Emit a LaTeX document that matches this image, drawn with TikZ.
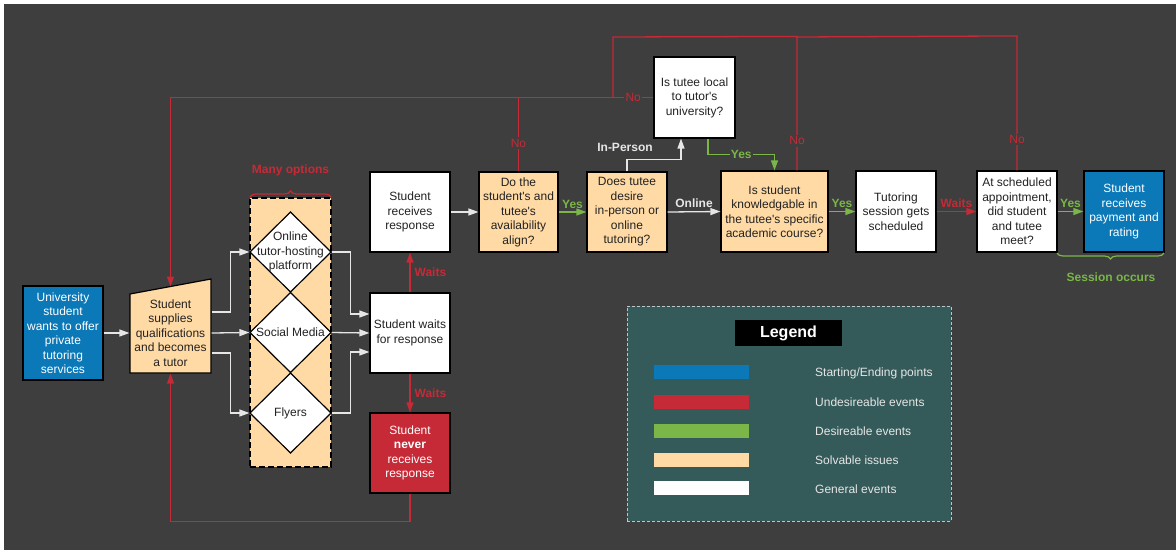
\documentclass[tikz,border=0pt]{standalone}
\usepackage{fontspec}
\setmainfont{Liberation Sans}[Ligatures=TeXOff]
\usetikzlibrary{arrows.meta,decorations.pathreplacing}
\definecolor{bgc}{HTML}{3E3E3E}
\definecolor{sblue}{HTML}{0B78B8}
\definecolor{sred}{HTML}{C62A36}
\definecolor{sgreen}{HTML}{7AB648}
\definecolor{speach}{HTML}{FFDAA5}
\definecolor{lteal}{HTML}{355A5A}
\definecolor{lgray}{HTML}{E6E6E6}
\definecolor{ink}{HTML}{222222}
\begin{document}
\begin{tikzpicture}[x=1pt,y=-1pt,
 box/.style={draw=black, line width=1.2pt, minimum width=80pt, minimum height=80pt, inner sep=1pt, align=center, font=\fontsize{12}{14.5}\selectfont, text=ink},
 wbox/.style={box, fill=white},
 pbox/.style={box, fill=speach},
 bbox/.style={box, fill=sblue, text=white},
 rbox/.style={box, fill=sred, text=white},
 wline/.style={draw=lgray, line width=1.3pt},
 warr/.style={wline, -{Triangle[length=10pt,width=7pt]}},
 rline/.style={draw=sred, line width=1.3pt},
 rarr/.style={rline, -{Triangle[length=10pt,width=7pt]}},
 garr/.style={draw=sgreen, line width=1.3pt, -{Triangle[length=10pt,width=7pt]}},
 lbl/.style={font=\fontsize{12}{14}\selectfont\bfseries, inner sep=1pt},
 nolbl/.style={font=\fontsize{12}{14}\selectfont, text=sred, fill=bgc, inner sep=1.5pt},
 legbar/.style={minimum width=95pt, minimum height=14pt, inner sep=0pt},
 legtxt/.style={anchor=west, text=lgray, font=\fontsize{12}{14}\selectfont, inner sep=0pt},
 diam/.style={fill=white, draw=black, line width=1.2pt},
]
\useasboundingbox (0,0) rectangle (1176,550);
\fill[white] (0,0) rectangle (1176,550);
\fill[bgc] (4,4) rectangle (1176,550);

% start
\node[bbox, minimum height=94pt] (start) at (63,333) {University\\student\\wants to offer\\private\\tutoring\\services};

% trapezoid
\filldraw[fill=speach, draw=black, line width=1.2pt] (130,294) -- (211,279) -- (211,373) -- (130,373) -- cycle;
\node[box, draw=none, minimum width=81pt] (trap) at (170.5,333) {Student\\supplies\\qualifications\\and becomes\\a tutor};
\coordinate (traptop) at (170.5,286.5);

% options column
\node[draw=black, dash pattern=on 6pt off 3pt, line width=1.2pt, fill=speach, minimum width=81pt, minimum height=269pt, inner sep=0pt] (col) at (290.5,332.5) {};
\filldraw[diam] (290.5,212) -- (331,252) -- (290.5,292) -- (250,252) -- cycle;
\filldraw[diam] (290.5,292.5) -- (331,332.5) -- (290.5,372.5) -- (250,332.5) -- cycle;
\filldraw[diam] (290.5,373) -- (331,413) -- (290.5,453) -- (250,413) -- cycle;
\node[box, draw=none, minimum width=81pt] (d1) at (290.5,252) {Online\\tutor-hosting\\platform};
\node[box, draw=none, minimum width=81pt] (d2) at (290.5,332.5) {Social Media};
\node[box, draw=none, minimum width=81pt] (d3) at (290.5,413) {Flyers};
\draw[sred, line width=1.2pt, decorate, decoration={brace, amplitude=6pt}] (250,197) -- (331,197);
\node[lbl, text=sred] (manyopt) at (290.5,170) {Many options};

% response column
\node[wbox] (wait) at (410,333) {Student waits\\for response};
\node[wbox] (recv) at (410,212) {Student\\receives\\response};
\node[rbox] (never) at (410,453) {Student\\\textbf{never}\\receives\\response};

% main row
\node[pbox, minimum width=79pt] (align) at (518.5,212) {Do the\\student's and\\tutee's\\availability\\align?};
\node[pbox] (desire) at (627,212) {Does tutee\\desire\\in-person or\\online\\tutoring?};
\node[wbox, minimum width=81pt, minimum height=81pt] (local) at (694.5,97.5) {Is tutee local\\to tutor's\\university?};
\node[pbox, minimum width=107pt, minimum height=81pt] (know) at (774.5,211.5) {Is student\\knowledgable in\\the tutee's specific\\academic course?};
\node[wbox, minimum height=81pt] (sched) at (896,211.5) {Tutoring\\session gets\\scheduled};
\node[wbox, minimum height=81pt] (meet) at (1017,211.5) {At scheduled\\appointment,\\did student\\and tutee\\meet?};
\node[bbox, minimum height=81pt] (pay) at (1124,211.5) {Student\\receives\\payment and\\rating};
\draw[sgreen, line width=1.2pt, decorate, decoration={brace, amplitude=6pt}] (1164,253) -- (1057,253);
\node[lbl, text=sgreen] (sessocc) at (1111,277) {Session occurs};

% connectors
\draw[warr] (start.east) -- (trap.west);
\draw[warr] ([yshift=21pt]trap.east) -- ++(19,0) |- (d1.west);
\draw[warr] (trap.east) -- (d2.west);
\draw[warr] ([yshift=-20pt]trap.east) -- ++(19,0) |- (d3.west);
\draw[warr] (d1.east) -- ++(19,0) |- ([yshift=19pt]wait.west);
\draw[warr] (d2.east) -- (wait.west);
\draw[warr] (d3.east) -- ++(19,0) |- ([yshift=-19pt]wait.west);
\draw[rarr] (wait.north) -- node[lbl, text=sred, right=3pt] {Waits} (recv.south);
\draw[rarr] (wait.south) -- node[lbl, text=sred, right=3pt] {Waits} (never.north);
\draw[rarr] (never.south) -- ++(0,28) -| (trap.south);
\draw[warr] (recv.east) -- (align.west);
\draw[garr] (align.east) -- node[lbl, text=sgreen, above=2pt] {Yes} (desire.west);
\draw[warr] (desire.east) -- node[lbl, text=lgray, above=2pt] {Online} (know.west);
\draw[warr] (desire.north) -- ++(0,-12) -| ([xshift=-13.5pt]local.south);
\node[lbl, text=lgray] (inperson) at (625,147) {In-Person};
\draw[garr] ([xshift=13.5pt]local.south) -- ++(0,16) -| node[pos=0.25, lbl, text=sgreen, fill=bgc] {Yes} (know.north);
\draw[garr] (know.east) -- node[lbl, text=sgreen, above=2pt] {Yes} (sched.west);
\draw[rarr] (sched.east) -- node[lbl, text=sred, above=2pt] {Waits} (meet.west);
\draw[garr] (meet.east) -- node[lbl, text=sgreen, above=2pt] {Yes} (pay.west);

% red "No" loops
\draw[rarr] (local.west) -- node[nolbl] {No} (613,97.5) -- (170.5,97.5) -- (traptop);
\draw[rline] (align.north) -- node[nolbl, pos=0.38] {No} ++(0,-74.5);
\draw[rline] ([xshift=22.5pt]know.north) -- node[nolbl, pos=0.22] {No} ++(0,-134) -- (613,37) -- (613,97.5);
\draw[rline] (meet.north) -- node[nolbl, pos=0.23] {No} ++(0,-134.5) -- (797,37);

% legend
\node[draw=lgray!85!black, dash pattern=on 3pt off 2pt, line width=1pt, fill=lteal, minimum width=324pt, minimum height=215pt, inner sep=0pt] (legbox) at (789,413.5) {};
\node[fill=black, minimum width=107pt, minimum height=26pt, inner sep=0pt, text=white, font=\fontsize{16}{18}\selectfont\bfseries] (legt) at (788.5,333) {Legend};
\node[legbar, fill=sblue] (lb1) at (701.5,372) {};
\node[legbar, fill=sred] (lb2) at (701.5,401.5) {};
\node[legbar, fill=sgreen] (lb3) at (701.5,430.5) {};
\node[legbar, fill=speach] (lb4) at (701.5,459.5) {};
\node[legbar, fill=white] (lb5) at (701.5,488) {};
\node[legtxt] (lt1) at (815,373) {Starting/Ending points};
\node[legtxt] (lt2) at (815,402) {Undesireable events};
\node[legtxt] (lt3) at (815,431) {Desireable events};
\node[legtxt] (lt4) at (815,460) {Solvable issues};
\node[legtxt] (lt5) at (815,489) {General events};
\end{tikzpicture}
\end{document}
